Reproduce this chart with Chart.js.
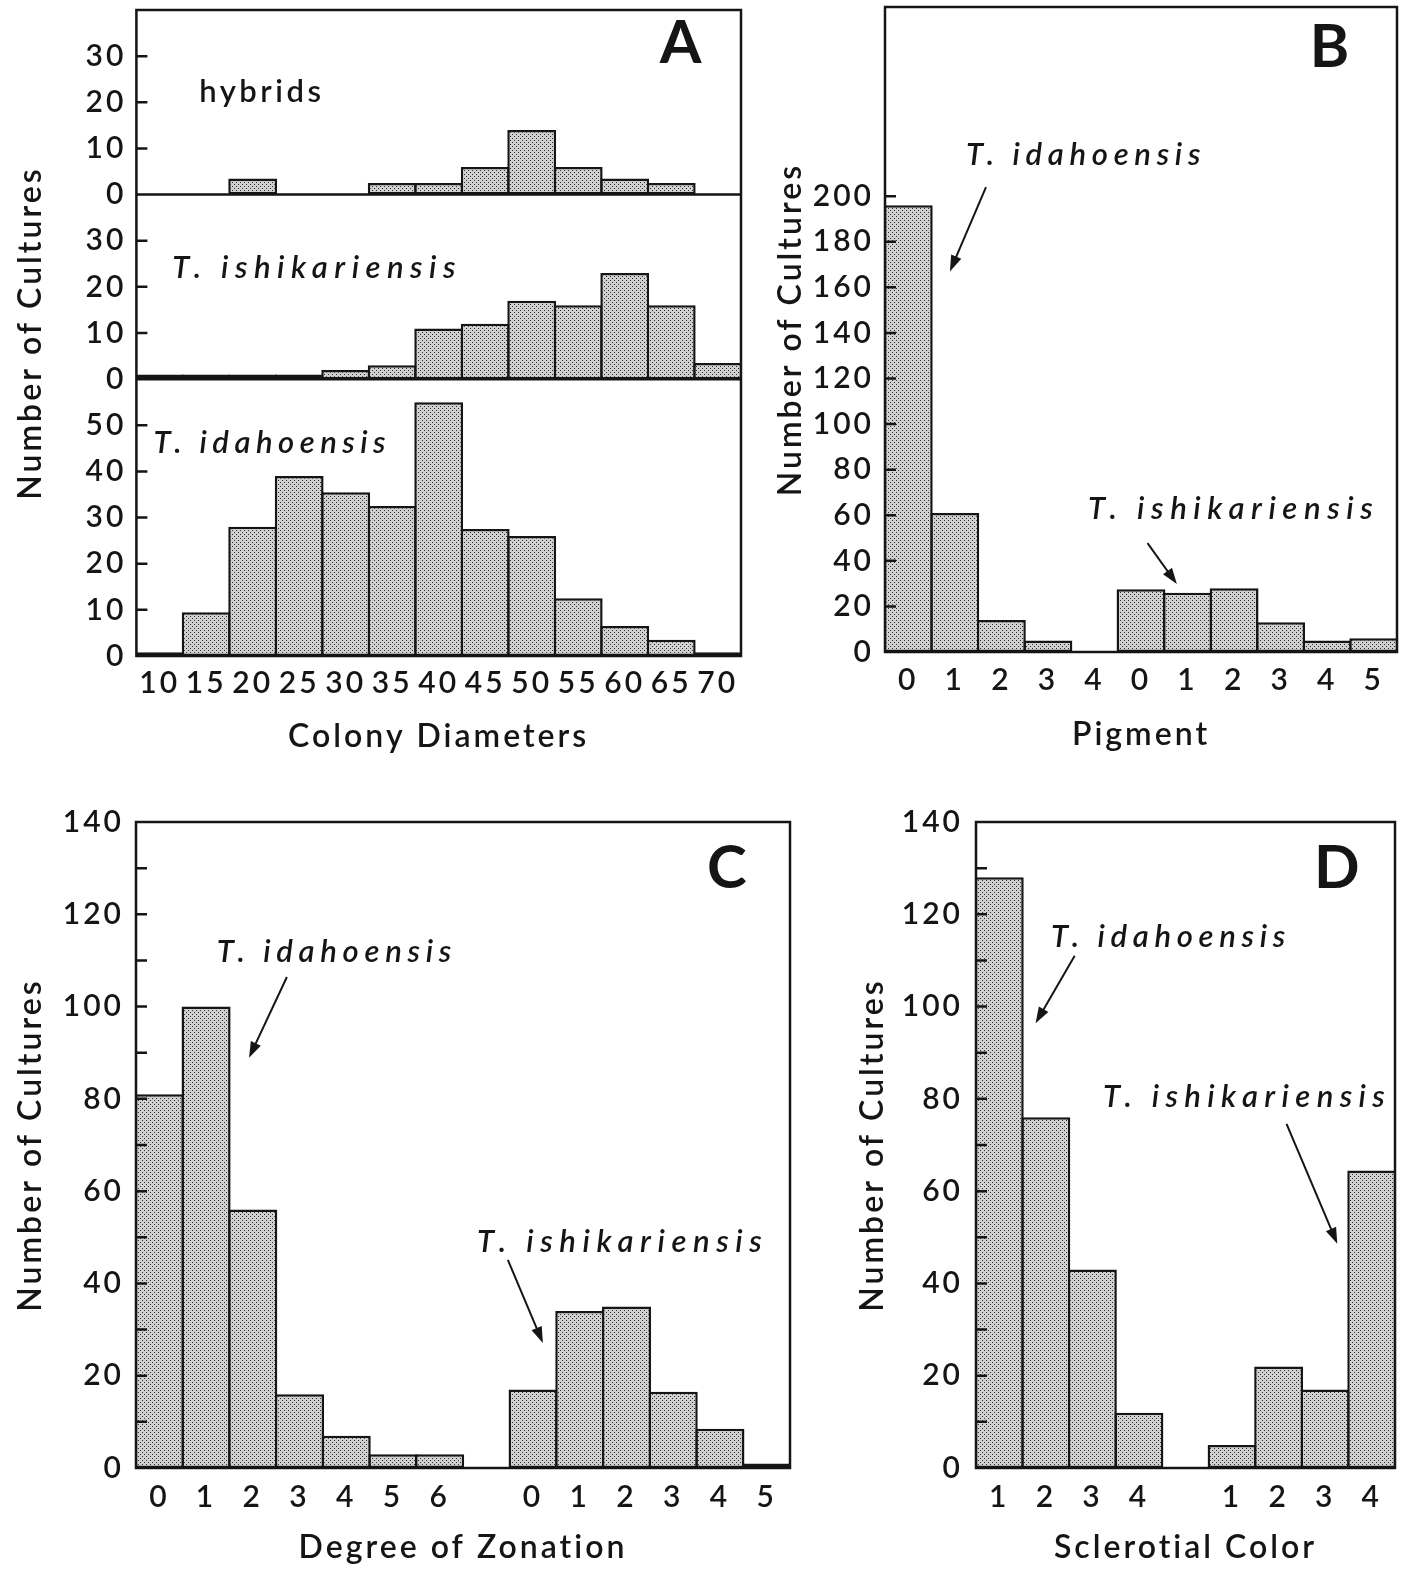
<!DOCTYPE html>
<html>
<head>
<meta charset="utf-8">
<script src="https://cdn.jsdelivr.net/npm/chart.js@4.4.1/dist/chart.umd.min.js"></script>
<style>
  body { margin: 0; background: #fff; width: 1408px; height: 1571px; position: relative; overflow: hidden; }
  canvas { position: absolute; }
</style>
</head>
<body>
<canvas id="chartA" width="770" height="788" style="left:0;top:-18px"></canvas>
<canvas id="chartB" width="638" height="792" style="left:770px;top:-22px"></canvas>
<canvas id="chartC" width="820" height="781" style="left:0;top:790px"></canvas>
<canvas id="chartD" width="588" height="781" style="left:820px;top:790px"></canvas>
<script>
// A: colony diameters (three stacked histograms)
const diameterBins = ['10', '15', '20', '25', '30', '35', '40', '45', '50', '55', '60', '65', '70'];
const hybridDiameter = [0, 0, 3.5, 0, 0, 2.5, 2.5, 6, 14, 6, 3.5, 2.5, 0];
const ishiDiameter = [1, 1, 1, 1, 2, 3, 11, 12, 17, 16, 23, 16, 3.5];
const idahoDiameter = [0.8, 9.5, 28, 39, 35.5, 32.5, 55, 27.5, 26, 12.5, 6.5, 3.5, 0.8];

// B: pigment
const idahoPigmentBins = ['0', '1', '2', '3', '4'];
const idahoPigment = [196, 61, 14, 5, 0];
const ishiPigmentBins = ['0', '1', '2', '3', '4', '5'];
const ishiPigment = [27.5, 26, 28, 13, 5, 6];

// C: degree of zonation
const idahoZonationBins = ['0', '1', '2', '3', '4', '5', '6'];
const idahoZonation = [81, 100, 56, 16, 7, 3, 3];
const ishiZonationBins = ['0', '1', '2', '3', '4', '5'];
const ishiZonation = [17, 34, 35, 16.5, 8.5, 1];

// D: sclerotial color
const idahoColorBins = ['1', '2', '3', '4'];
const idahoColor = [128, 76, 43, 12];
const ishiColorBins = ['1', '2', '3', '4'];
const ishiColor = [5, 22, 17, 64.5];

const ink = '#151515';
const fam = 'Lato, "Open Sans", sans-serif';

// stippled fill like the printed screen tone
function stipple() {
  const c = document.createElement('canvas');
  c.width = 4; c.height = 4;
  const g = c.getContext('2d');
  g.fillStyle = '#d0d0d0';
  g.fillRect(0, 0, 4, 4);
  g.fillStyle = '#2e2e2e';
  g.fillRect(0, 0, 1, 1);
  g.fillRect(2, 2, 1, 1);
  return g.createPattern(c, 'repeat');
}
const dots = stipple();

// labels, arrows and panel letters, in data units (category index, value)
const species = 'italic 600 31px';
const notes = {
  chartA: [
    { t: 'A', x: 11.2, y: 32.8, ax: 'yH', f: 'bold 60px', align: 'center' },
    { t: 'hybrids', x: 0.85, y: 22.2, ax: 'yH', f: '600 31px', ls: 3.5 },
    { t: 'T. ishikariensis', x: 0.27, y: 24.1, ax: 'yT', f: species, ls: 6.5 },
    { t: 'T. idahoensis', x: -0.13, y: 46.1, ax: 'yI', f: species, ls: 5.5 }
  ],
  chartB: [
    { t: 'B', x: 9.05, y: 265, ax: 'y', f: 'bold 60px', align: 'center' },
    { t: 'T. idahoensis', x: 1.24, y: 218, ax: 'y', f: species, ls: 5.7 },
    { arrow: [1.67, 204, 0.895, 167], ax: 'y' },
    { t: 'T. ishikariensis', x: 3.86, y: 62.7, ax: 'y', f: species, ls: 6.6 },
    { arrow: [5.14, 47.8, 5.77, 29.8], ax: 'y' }
  ],
  chartC: [
    { t: 'C', x: 12.15, y: 129.8, ax: 'y', f: 'bold 60px', align: 'center' },
    { t: 'T. idahoensis', x: 1.23, y: 111.8, ax: 'y', f: species, ls: 5.7 },
    { arrow: [2.73, 106.4, 1.92, 88.9], ax: 'y' },
    { t: 'T. ishikariensis', x: 6.8, y: 49, ax: 'y', f: species, ls: 6.6 },
    { arrow: [7.46, 45.1, 8.21, 27.1], ax: 'y' }
  ],
  chartD: [
    { t: 'D', x: 7.25, y: 129.8, ax: 'y', f: 'bold 60px', align: 'center' },
    { t: 'T. idahoensis', x: 1.11, y: 115, ax: 'y', f: species, ls: 5.7 },
    { arrow: [1.62, 111, 0.78, 96.4], ax: 'y' },
    { t: 'T. ishikariensis', x: 2.23, y: 80.5, ax: 'y', f: species, ls: 6.4 },
    { arrow: [6.17, 74.6, 7.26, 48.6], ax: 'y' }
  ]
};

function drawArrow(ctx, x1, y1, x2, y2) {
  const a = Math.atan2(y2 - y1, x2 - x1), L = 16, W = 5.5;
  const cx = Math.cos(a), sy = Math.sin(a);
  ctx.beginPath();
  ctx.moveTo(x1, y1);
  ctx.lineTo(x2 - cx * L * 0.7, y2 - sy * L * 0.7);
  ctx.stroke();
  ctx.beginPath();
  ctx.moveTo(x2, y2);
  ctx.lineTo(x2 - cx * L - sy * W, y2 - sy * L + cx * W);
  ctx.lineTo(x2 - cx * L + sy * W, y2 - sy * L - cx * W);
  ctx.closePath();
  ctx.fill();
}

const framePlugin = {
  id: 'frame',
  beforeDraw(chart) {
    chart.ctx.letterSpacing = '3px';
  },
  afterDatasetsDraw(chart, args, opts) {
    const { ctx, chartArea: a } = chart;
    ctx.save();
    ctx.strokeStyle = ink;
    ctx.lineWidth = 2.5;
    ctx.strokeRect(a.left, a.top, a.width, a.height);
    ctx.beginPath();
    Object.values(chart.scales).forEach(s => {
      if (s.axis !== 'y') return;
      if (s.bottom < a.bottom - 1) {
        ctx.moveTo(a.left, s.bottom);
        ctx.lineTo(a.right, s.bottom);
      }
      const top = opts.tickMax[s.id];
      s.ticks.forEach(t => {
        if (t.value <= 0 || t.value > top) return;
        const y = s.getPixelForValue(t.value);
        ctx.moveTo(a.left, y);
        ctx.lineTo(a.left + 11, y);
      });
    });
    ctx.stroke();
    ctx.restore();
  },
  afterDraw(chart) {
    const { ctx } = chart;
    const xs = chart.scales.x;
    ctx.save();
    ctx.fillStyle = ink;
    ctx.strokeStyle = ink;
    ctx.lineWidth = 2;
    (notes[chart.canvas.id] || []).forEach(n => {
      const ys = chart.scales[n.ax];
      if (n.arrow) {
        const [x1, y1, x2, y2] = n.arrow;
        drawArrow(ctx, xs.getPixelForValue(x1), ys.getPixelForValue(y1), xs.getPixelForValue(x2), ys.getPixelForValue(y2));
        return;
      }
      ctx.font = n.f + ' ' + fam;
      ctx.letterSpacing = (n.ls || 0) + 'px';
      ctx.textAlign = n.align || 'left';
      ctx.textBaseline = 'middle';
      ctx.fillText(n.t, xs.getPixelForValue(n.x), ys.getPixelForValue(n.y));
    });
    ctx.restore();
  }
};

const tickFont = { family: fam, size: 30, weight: 600 };
const titleFont = { family: fam, size: 32, weight: 600 };

function bar(data, yAxisID) {
  return {
    data, yAxisID,
    backgroundColor: dots,
    borderColor: ink,
    borderWidth: 2.5,
    borderSkipped: false,
    barPercentage: 1.05,
    categoryPercentage: 1,
    grouped: false
  };
}

function twoGroups(binsA, valsA, binsB, valsB, gap) {
  const spacer = gap ? [''] : [];
  const labels = [...binsA, ...spacer, ...binsB];
  const lead = binsA.length + spacer.length;
  return {
    labels,
    datasets: [
      bar([...valsA, ...Array(labels.length - valsA.length).fill(null)], 'y'),
      bar([...Array(lead).fill(null), ...valsB], 'y')
    ]
  };
}

function xAxis(text, boxH, tickPad, titlePad) {
  return {
    grid: { display: false, drawTicks: false },
    border: { display: false },
    ticks: { color: ink, font: tickFont, padding: tickPad, autoSkip: false, maxRotation: 0 },
    title: { display: true, text, color: ink, font: titleFont, padding: { top: 0, bottom: titlePad } },
    afterFit: s => { s.height = boxH; }
  };
}

function yAxis(o) {
  return {
    min: 0, max: o.max,
    stack: o.stack, stackWeight: o.weightInStack, weight: o.order || 0,
    grid: { display: false, drawTicks: false },
    border: { display: false },
    ticks: {
      stepSize: o.step, autoSkip: false, color: ink, font: tickFont, padding: o.pad,
      callback: v => (v <= o.labelMax && v % o.labelStep === 0) ? v : ''
    },
    title: o.title
      ? { display: true, text: 'Number of Cultures', color: ink, font: titleFont, padding: { top: o.title, bottom: 0 } }
      : { display: false },
    afterFit: s => { s.width = o.width; }
  };
}

function baseOptions(padding, scales, tickMax, extraPlugins) {
  return {
    responsive: false,
    animation: false,
    devicePixelRatio: 1,
    layout: { padding },
    plugins: Object.assign({ legend: { display: false }, tooltip: { enabled: false }, frame: { tickMax } }, extraPlugins || {}),
    scales
  };
}

// Panel A
new Chart(document.getElementById('chartA'), {
  type: 'bar',
  data: {
    labels: diameterBins,
    datasets: [
      bar(hybridDiameter, 'yH'),
      bar(ishiDiameter, 'yT'),
      bar(idahoDiameter, 'yI')
    ]
  },
  options: baseOptions(
    { left: 0, top: 0, right: 29, bottom: 0 },
    {
      x: xAxis('Colony Diameters', 114, 9, 14),
      yI: yAxis({ max: 60, step: 10, labelMax: 50, labelStep: 10, pad: 10, width: 87, stack: 'a', weightInStack: 60, order: 1 }),
      yT: yAxis({ max: 40, step: 10, labelMax: 30, labelStep: 10, pad: 10, width: 87, stack: 'a', weightInStack: 40, order: 2 }),
      yH: yAxis({ max: 40, step: 10, labelMax: 30, labelStep: 10, pad: 10, width: 87, stack: 'a', weightInStack: 40, order: 3 })
    },
    { yH: 30, yT: 30, yI: 50 },
    {
      title: {
        display: true, position: 'left', fullSize: false, text: 'Number of Cultures',
        color: ink, font: titleFont, padding: { top: 11, bottom: 0 }
      }
    }
  ),
  plugins: [framePlugin]
});

// Panel B
new Chart(document.getElementById('chartB'), {
  type: 'bar',
  data: twoGroups(idahoPigmentBins, idahoPigment, ishiPigmentBins, ishiPigment, false),
  options: baseOptions(
    { left: 0, top: 0, right: 11, bottom: 0 },
    {
      x: xAxis('Pigment', 118, 10, 16),
      y: yAxis({ max: 283, step: 20, labelMax: 200, labelStep: 20, pad: 11, width: 115, title: 1 })
    },
    { y: 200 }
  ),
  plugins: [framePlugin]
});

// Panel C
new Chart(document.getElementById('chartC'), {
  type: 'bar',
  data: twoGroups(idahoZonationBins, idahoZonation, ishiZonationBins, ishiZonation, true),
  options: baseOptions(
    { left: 0, top: 32, right: 30, bottom: 0 },
    {
      x: xAxis('Degree of Zonation', 103, 11, 4),
      y: yAxis({ max: 140, step: 10, labelMax: 140, labelStep: 20, pad: 12, width: 136, title: 11 })
    },
    { y: 130 }
  ),
  plugins: [framePlugin]
});

// Panel D
new Chart(document.getElementById('chartD'), {
  type: 'bar',
  data: twoGroups(idahoColorBins, idahoColor, ishiColorBins, ishiColor, true),
  options: baseOptions(
    { left: 0, top: 32, right: 13, bottom: 0 },
    {
      x: xAxis('Sclerotial Color', 103, 11, 4),
      y: yAxis({ max: 140, step: 10, labelMax: 140, labelStep: 20, pad: 13, width: 156, title: 33 })
    },
    { y: 130 }
  ),
  plugins: [framePlugin]
});
</script>
</body>
</html>
